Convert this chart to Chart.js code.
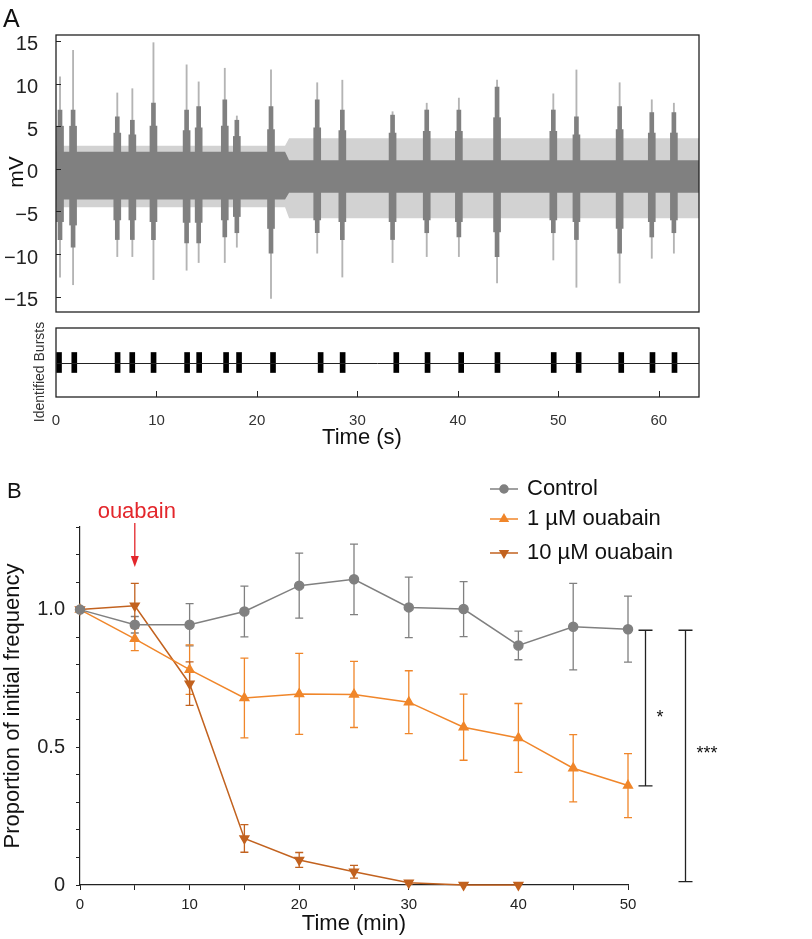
<!DOCTYPE html>
<html>
<head>
<meta charset="UTF-8" />
<title>Burst frequency after ouabain</title>
<script src="https://cdn.jsdelivr.net/npm/chart.js"></script>
<style>
  body { margin: 0; background: #fff; }
  .panel { position: absolute; left: 0; width: 812px; }
  #traceWrap { top: 0; height: 320px; }
  #burstWrap { top: 320px; height: 140px; }
  #freqWrap { top: 460px; height: 479px; }
</style>
</head>
<body>
<div class="panel" id="traceWrap"><canvas id="traceChart"></canvas></div>
<div class="panel" id="burstWrap"><canvas id="burstChart"></canvas></div>
<div class="panel" id="freqWrap"><canvas id="freqChart"></canvas></div>

<script>
  // ---- Panel A: field recording (mV vs s) ----
  const traceBandTimes = [0, 22.8, 23.2, 64];
  const traceCoreUpper = [2.0, 2.0, 1.0, 1.0];
  const traceCoreLower = [-3.6, -3.6, -2.8, -2.8];
  const traceNoiseUpper = [2.7, 2.7, 3.6, 3.6];
  const traceNoiseLower = [-4.5, -4.5, -5.8, -5.8];

  const spikeTimes     = [0.4, 1.7, 6.1, 7.6, 9.7, 13.0, 14.2, 16.8, 18.0, 21.4, 26.0, 28.5, 33.5, 36.9, 40.1, 43.9, 49.5, 51.8, 56.1, 59.3, 61.5];
  const spikeBaseUp    = [5.0, 5.0, 4.2, 4.0, 5.0, 4.5, 4.8, 5.0, 3.8, 4.6, 4.8, 4.5, 4.2, 4.4, 4.4, 6.0, 4.4, 4.0, 4.6, 4.2, 4.2];
  const spikeBaseDown  = [-6.2, -6.6, -6.0, -6.0, -6.2, -6.3, -6.3, -6.0, -5.6, -7.0, -6.0, -6.2, -6.2, -6.0, -6.2, -7.4, -6.0, -6.2, -7.0, -6.2, -6.0];
  const spikeCoreUp    = [6.9, 6.9, 6.1, 5.7, 7.7, 6.9, 7.3, 8.1, 5.7, 7.3, 8.1, 6.9, 6.3, 6.9, 6.9, 9.6, 6.9, 6.1, 7.3, 6.6, 6.6];
  const spikeCoreDown  = [-8.3, -9.2, -8.3, -8.3, -8.3, -8.7, -8.7, -8.0, -7.5, -9.9, -7.5, -8.3, -8.3, -7.5, -8.0, -10.3, -7.5, -8.3, -9.9, -8.0, -7.5];
  const spikePeakUp    = [10.8, 13.9, 8.9, 9.4, 14.8, 12.2, 10.2, 11.8, 6.2, 11.6, 10.1, 10.4, 6.7, 7.7, 8.3, 10.4, 8.8, 11.6, 10.1, 8.1, 7.7];
  const spikePeakDown  = [-12.7, -13.6, -10.3, -10.3, -13.0, -11.9, -11.0, -11.0, -9.2, -15.2, -9.9, -12.7, -11.0, -10.3, -10.3, -13.4, -10.7, -13.9, -13.4, -10.5, -9.9];
  const traceYTicks = [-15, -10, -5, 0, 5, 10, 15];

  // identified bursts (s)
  const burstTimes = [0.3, 1.82, 6.13, 7.59, 9.71, 13.05, 14.25, 16.93, 18.22, 21.6, 26.34, 28.53, 33.87, 36.98, 40.33, 43.94, 49.54, 52.02, 56.26, 59.37, 61.56];
  const burstXTicks = [0, 10, 20, 30, 40, 50, 60];

  // ---- Panel B: proportion of initial frequency ----
  const timeMin = [0, 5, 10, 15, 20, 25, 30, 35, 40, 45, 50];
  const controlMean = [1.0, 0.945, 0.945, 0.993, 1.087, 1.11, 1.008, 1.002, 0.87, 0.938, 0.929];
  const controlErr  = [0, 0.03, 0.077, 0.092, 0.118, 0.128, 0.11, 0.10, 0.052, 0.157, 0.12];
  const oua1Mean = [1.0, 0.894, 0.782, 0.679, 0.694, 0.692, 0.664, 0.573, 0.534, 0.424, 0.361];
  const oua1Err  = [0, 0.043, 0.09, 0.145, 0.147, 0.12, 0.114, 0.12, 0.125, 0.122, 0.116];
  const oua10Mean = [1.0, 1.014, 0.731, 0.169, 0.091, 0.048, 0.008, 0.0, 0.0];
  const oua10Err  = [0, 0.081, 0.079, 0.05, 0.027, 0.023, 0.005, 0, 0];
  const freqYTicks = [0, 0.1, 0.2, 0.3, 0.4, 0.5, 0.6, 0.7, 0.8, 0.9, 1.0, 1.1, 1.2, 1.3];
  const freqYLabels = { 0: '0', 0.5: '0.5', 1: '1.0' };
  const freqXTicks = [0, 5, 10, 15, 20, 25, 30, 35, 40, 45, 50];
  const freqXLabels = [0, 10, 20, 30, 40, 50];
  const drugTime = 5;
  const sigBrackets = [
    { label: '*',   x: 51.55, top: 0.925, bottom: 0.36,  labelY: 0.62 },
    { label: '***', x: 55.2,  top: 0.925, bottom: 0.012, labelY: 0.49 }
  ];

  const FONT = '"Liberation Sans", Arial, Helvetica, sans-serif';
  Chart.defaults.font.family = FONT;
  Chart.defaults.color = '#222';
  Chart.defaults.animation = false;

  const GRAY = '#808080';
  const ORANGE = '#f0862a';
  const BROWN = '#c2621f';
  const RED = '#e3262b';

  const pts = (xs, ys) => xs.map((x, i) => ({ x: x, y: ys[i] }));
  // fixed axis size, and no extra label padding pushed into the layout
  const fixWidth = w => (s => { s.width = w; s.paddingTop = 0; s.paddingBottom = 0; });
  const fixHeight = h => (s => { s.height = h; s.paddingLeft = 0; s.paddingRight = 0; });
  const setTicks = vals => (axis => { axis.ticks = vals.map(v => ({ value: v })); });
  const floating = (lo, hi) => spikeTimes.map((t, i) => ({ x: t, y: [lo[i], hi[i]] }));

  // 1) trace
  new Chart(document.getElementById('traceChart'), {
    type: 'bar',
    data: {
      datasets: [
        { type: 'line', data: pts(traceBandTimes, traceNoiseUpper), borderWidth: 0, pointRadius: 0,
          backgroundColor: '#d2d2d2', fill: '+1', order: 7 },
        { type: 'line', data: pts(traceBandTimes, traceNoiseLower), borderWidth: 0, pointRadius: 0,
          fill: false, order: 6 },
        { type: 'line', data: pts(traceBandTimes, traceCoreUpper), borderWidth: 0, pointRadius: 0,
          backgroundColor: GRAY, fill: '+1', order: 5 },
        { type: 'line', data: pts(traceBandTimes, traceCoreLower), borderWidth: 0, pointRadius: 0,
          fill: false, order: 4 },
        { data: floating(spikePeakDown, spikePeakUp), backgroundColor: '#b4b4b4',
          barThickness: 1.2, grouped: false, order: 3 },
        { data: floating(spikeBaseDown, spikeBaseUp), backgroundColor: GRAY,
          barThickness: 7, grouped: false, order: 2 },
        { data: floating(spikeCoreDown, spikeCoreUp), backgroundColor: GRAY,
          barThickness: 4, grouped: false, order: 1 }
      ]
    },
    options: {
      responsive: true,
      maintainAspectRatio: false,
      layout: { padding: { top: 35, right: 113, bottom: 8, left: 0 } },
      scales: {
        x: { type: 'linear', min: 0, max: 64, offset: false, display: false, grid: { offset: false } },
        y: {
          min: -16.8, max: 15.7,
          afterFit: fixWidth(56),
          afterBuildTicks: setTicks(traceYTicks),
          grid: { display: false },
          border: { display: false },
          ticks: {
            font: { size: 20 }, color: '#222', padding: 10, labelOffset: 4,
            callback: v => String(v).replace('-', '\u2212')
          }
        }
      },
      plugins: { legend: { display: false }, tooltip: { enabled: false } }
    },
    plugins: [{
      id: 'traceFrame',
      afterDraw(chart) {
        const { ctx, chartArea: a, scales } = chart;
        ctx.save();
        ctx.strokeStyle = '#222';
        ctx.lineWidth = 1.3;
        ctx.strokeRect(a.left, a.top, a.right - a.left, a.bottom - a.top);
        ctx.lineWidth = 1;
        traceYTicks.forEach(v => {
          const y = Math.round(scales.y.getPixelForValue(v)) + 0.5;
          ctx.beginPath(); ctx.moveTo(a.left, y); ctx.lineTo(a.left + 5, y); ctx.stroke();
        });
        ctx.fillStyle = '#111';
        ctx.font = '25px ' + FONT;
        ctx.textBaseline = 'alphabetic';
        ctx.fillText('A', 3, 27);
        ctx.translate(17, 172);
        ctx.rotate(-Math.PI / 2);
        ctx.font = '21px ' + FONT;
        ctx.textAlign = 'center';
        ctx.textBaseline = 'middle';
        ctx.fillText('mV', 0, 0);
        ctx.restore();
      }
    }]
  });

  // 2) identified bursts
  new Chart(document.getElementById('burstChart'), {
    type: 'bar',
    data: {
      datasets: [{
        data: burstTimes.map(t => ({ x: t, y: [-0.29, 0.29] })),
        backgroundColor: '#000', barThickness: 5, grouped: false
      }]
    },
    options: {
      responsive: true,
      maintainAspectRatio: false,
      layout: { padding: { top: 8, right: 113, bottom: 0, left: 56 } },
      scales: {
        x: {
          type: 'linear', min: 0, max: 64, offset: false,
          afterFit: fixHeight(63),
          afterBuildTicks: setTicks(burstXTicks),
          grid: { display: false, offset: false },
          border: { display: false },
          ticks: { font: { size: 15 }, color: '#333', padding: 7, maxRotation: 0 }
        },
        y: { min: -1, max: 1, display: false }
      },
      plugins: { legend: { display: false }, tooltip: { enabled: false } }
    },
    plugins: [{
      id: 'burstFrame',
      afterDraw(chart) {
        const { ctx, chartArea: a, scales } = chart;
        ctx.save();
        ctx.strokeStyle = '#222';
        ctx.lineWidth = 1.3;
        ctx.strokeRect(a.left, a.top, a.right - a.left, a.bottom - a.top);
        ctx.lineWidth = 1;
        const y0 = Math.round(scales.y.getPixelForValue(0)) + 0.5;
        ctx.beginPath(); ctx.moveTo(a.left, y0); ctx.lineTo(a.right, y0); ctx.stroke();
        burstXTicks.slice(1).forEach(v => {
          const x = Math.round(scales.x.getPixelForValue(v)) + 0.5;
          ctx.beginPath(); ctx.moveTo(x, a.bottom); ctx.lineTo(x, a.bottom - 6); ctx.stroke();
        });
        ctx.fillStyle = '#111';
        ctx.font = '22px ' + FONT;
        ctx.textAlign = 'center';
        ctx.textBaseline = 'middle';
        ctx.fillText('Time (s)', 362, 118);
        ctx.translate(40, 52);
        ctx.rotate(-Math.PI / 2);
        ctx.font = '14px ' + FONT;
        ctx.fillStyle = '#333';
        ctx.fillText('Identified Bursts', 0, 0);
        ctx.restore();
      }
    }]
  });

  // 3) frequency time course
  const errorSets = [
    { mean: controlMean, err: controlErr, color: GRAY },
    { mean: oua1Mean, err: oua1Err, color: ORANGE },
    { mean: oua10Mean, err: oua10Err, color: BROWN }
  ];
  const legendItems = [
    { text: 'Control', color: GRAY, style: 'circle', rot: 0 },
    { text: '1 \u00b5M ouabain', color: ORANGE, style: 'triangle', rot: 0 },
    { text: '10 \u00b5M ouabain', color: BROWN, style: 'triangle', rot: 180 }
  ];

  new Chart(document.getElementById('freqChart'), {
    type: 'line',
    data: {
      datasets: [
        { label: 'Control', data: pts(timeMin, controlMean), borderColor: GRAY, backgroundColor: GRAY,
          borderWidth: 1.5, pointStyle: 'circle', pointRadius: 4.5, clip: false },
        { label: '1 \u00b5M ouabain', data: pts(timeMin, oua1Mean), borderColor: ORANGE, backgroundColor: ORANGE,
          borderWidth: 1.5, pointStyle: 'triangle', pointRadius: 5, clip: false },
        { label: '10 \u00b5M ouabain', data: pts(timeMin.slice(0, oua10Mean.length), oua10Mean), borderColor: BROWN,
          backgroundColor: BROWN, borderWidth: 1.5, pointStyle: 'triangle', pointRotation: 180, pointRadius: 5, clip: false }
      ]
    },
    options: {
      responsive: true,
      maintainAspectRatio: false,
      layout: { padding: { top: 67, right: 184, bottom: 0, left: 0 } },
      scales: {
        x: {
          type: 'linear', min: 0, max: 50,
          afterFit: fixHeight(54),
          afterBuildTicks: setTicks(freqXTicks),
          grid: { drawOnChartArea: false, drawTicks: true, tickLength: 5, color: '#222' },
          border: { display: true, color: '#222', width: 1.2 },
          ticks: { font: { size: 15 }, color: '#222', padding: 6, maxRotation: 0,
            callback: v => freqXLabels.includes(v) ? String(v) : '' }
        },
        y: {
          min: 0, max: 1.3,
          afterFit: fixWidth(80),
          afterBuildTicks: setTicks(freqYTicks),
          grid: { drawOnChartArea: false, drawTicks: true, tickLength: 4, color: '#222' },
          border: { display: true, color: '#222', width: 1.2 },
          ticks: { font: { size: 20 }, color: '#222', padding: 11,
            callback: v => { const k = Math.round(v * 10) / 10; return k in freqYLabels ? freqYLabels[k] : ''; } }
        }
      },
      plugins: { legend: { display: false }, tooltip: { enabled: false } }
    },
    plugins: [{
      id: 'freqExtras',
      beforeDatasetsDraw(chart) {
        const { ctx, scales } = chart;
        ctx.save();
        ctx.lineWidth = 1.3;
        errorSets.forEach(s => {
          ctx.strokeStyle = s.color;
          s.mean.forEach((m, i) => {
            if (!s.err[i]) return;
            const x = scales.x.getPixelForValue(timeMin[i]);
            const yt = scales.y.getPixelForValue(m + s.err[i]);
            const yb = scales.y.getPixelForValue(m - s.err[i]);
            ctx.beginPath();
            ctx.moveTo(x, yt); ctx.lineTo(x, yb);
            ctx.moveTo(x - 4, yt); ctx.lineTo(x + 4, yt);
            ctx.moveTo(x - 4, yb); ctx.lineTo(x + 4, yb);
            ctx.stroke();
          });
        });
        ctx.restore();
      },
      afterDraw(chart) {
        const { ctx, scales } = chart;
        ctx.save();
        ctx.fillStyle = '#111';
        ctx.font = '22px ' + FONT;
        ctx.textBaseline = 'alphabetic';
        ctx.fillText('B', 7, 38);

        // drug application marker
        const xd = scales.x.getPixelForValue(drugTime);
        ctx.fillStyle = RED;
        ctx.strokeStyle = RED;
        ctx.textAlign = 'center';
        ctx.fillText('ouabain', xd + 2, 58);
        ctx.lineWidth = 1.3;
        ctx.beginPath(); ctx.moveTo(xd, 63); ctx.lineTo(xd, 98); ctx.stroke();
        ctx.beginPath(); ctx.moveTo(xd - 4, 96); ctx.lineTo(xd + 4, 96); ctx.lineTo(xd, 107); ctx.closePath(); ctx.fill();

        // significance brackets
        ctx.strokeStyle = '#222';
        ctx.fillStyle = '#111';
        ctx.lineWidth = 1.3;
        ctx.font = '18px ' + FONT;
        sigBrackets.forEach(b => {
          const x = Math.round(scales.x.getPixelForValue(b.x)) + 0.5;
          const yt = scales.y.getPixelForValue(b.top);
          const yb = scales.y.getPixelForValue(b.bottom);
          ctx.beginPath();
          ctx.moveTo(x, yt); ctx.lineTo(x, yb);
          ctx.moveTo(x - 7, yt); ctx.lineTo(x + 7, yt);
          ctx.moveTo(x - 7, yb); ctx.lineTo(x + 7, yb);
          ctx.stroke();
          ctx.textAlign = 'left';
          ctx.textBaseline = 'middle';
          ctx.fillText(b.label, x + 11, scales.y.getPixelForValue(b.labelY) + 4);
        });

        // legend
        const rows = [29, 59, 93];
        legendItems.forEach((it, i) => {
          const y = rows[i];
          ctx.strokeStyle = it.color;
          ctx.fillStyle = it.color;
          ctx.lineWidth = 1.5;
          ctx.beginPath(); ctx.moveTo(490, y); ctx.lineTo(518, y); ctx.stroke();
          Chart.helpers.drawPoint(ctx, { pointStyle: it.style, radius: it.style === 'circle' ? 4 : 4.5,
            rotation: it.rot, borderWidth: 1 }, 504, y);
          ctx.fillStyle = '#111';
          ctx.font = '22px ' + FONT;
          ctx.textAlign = 'left';
          ctx.textBaseline = 'middle';
          ctx.fillText(it.text, 527, y);
        });

        // axis titles
        ctx.fillStyle = '#111';
        ctx.font = '22px ' + FONT;
        ctx.textAlign = 'center';
        ctx.textBaseline = 'middle';
        ctx.fillText('Time (min)', (chart.chartArea.left + chart.chartArea.right) / 2, 464);
        ctx.translate(13, (chart.chartArea.top + chart.chartArea.bottom) / 2);
        ctx.rotate(-Math.PI / 2);
        ctx.fillText('Proportion of initial frequency', 0, 0);
        ctx.restore();
      }
    }]
  });
</script>
</body>
</html>
